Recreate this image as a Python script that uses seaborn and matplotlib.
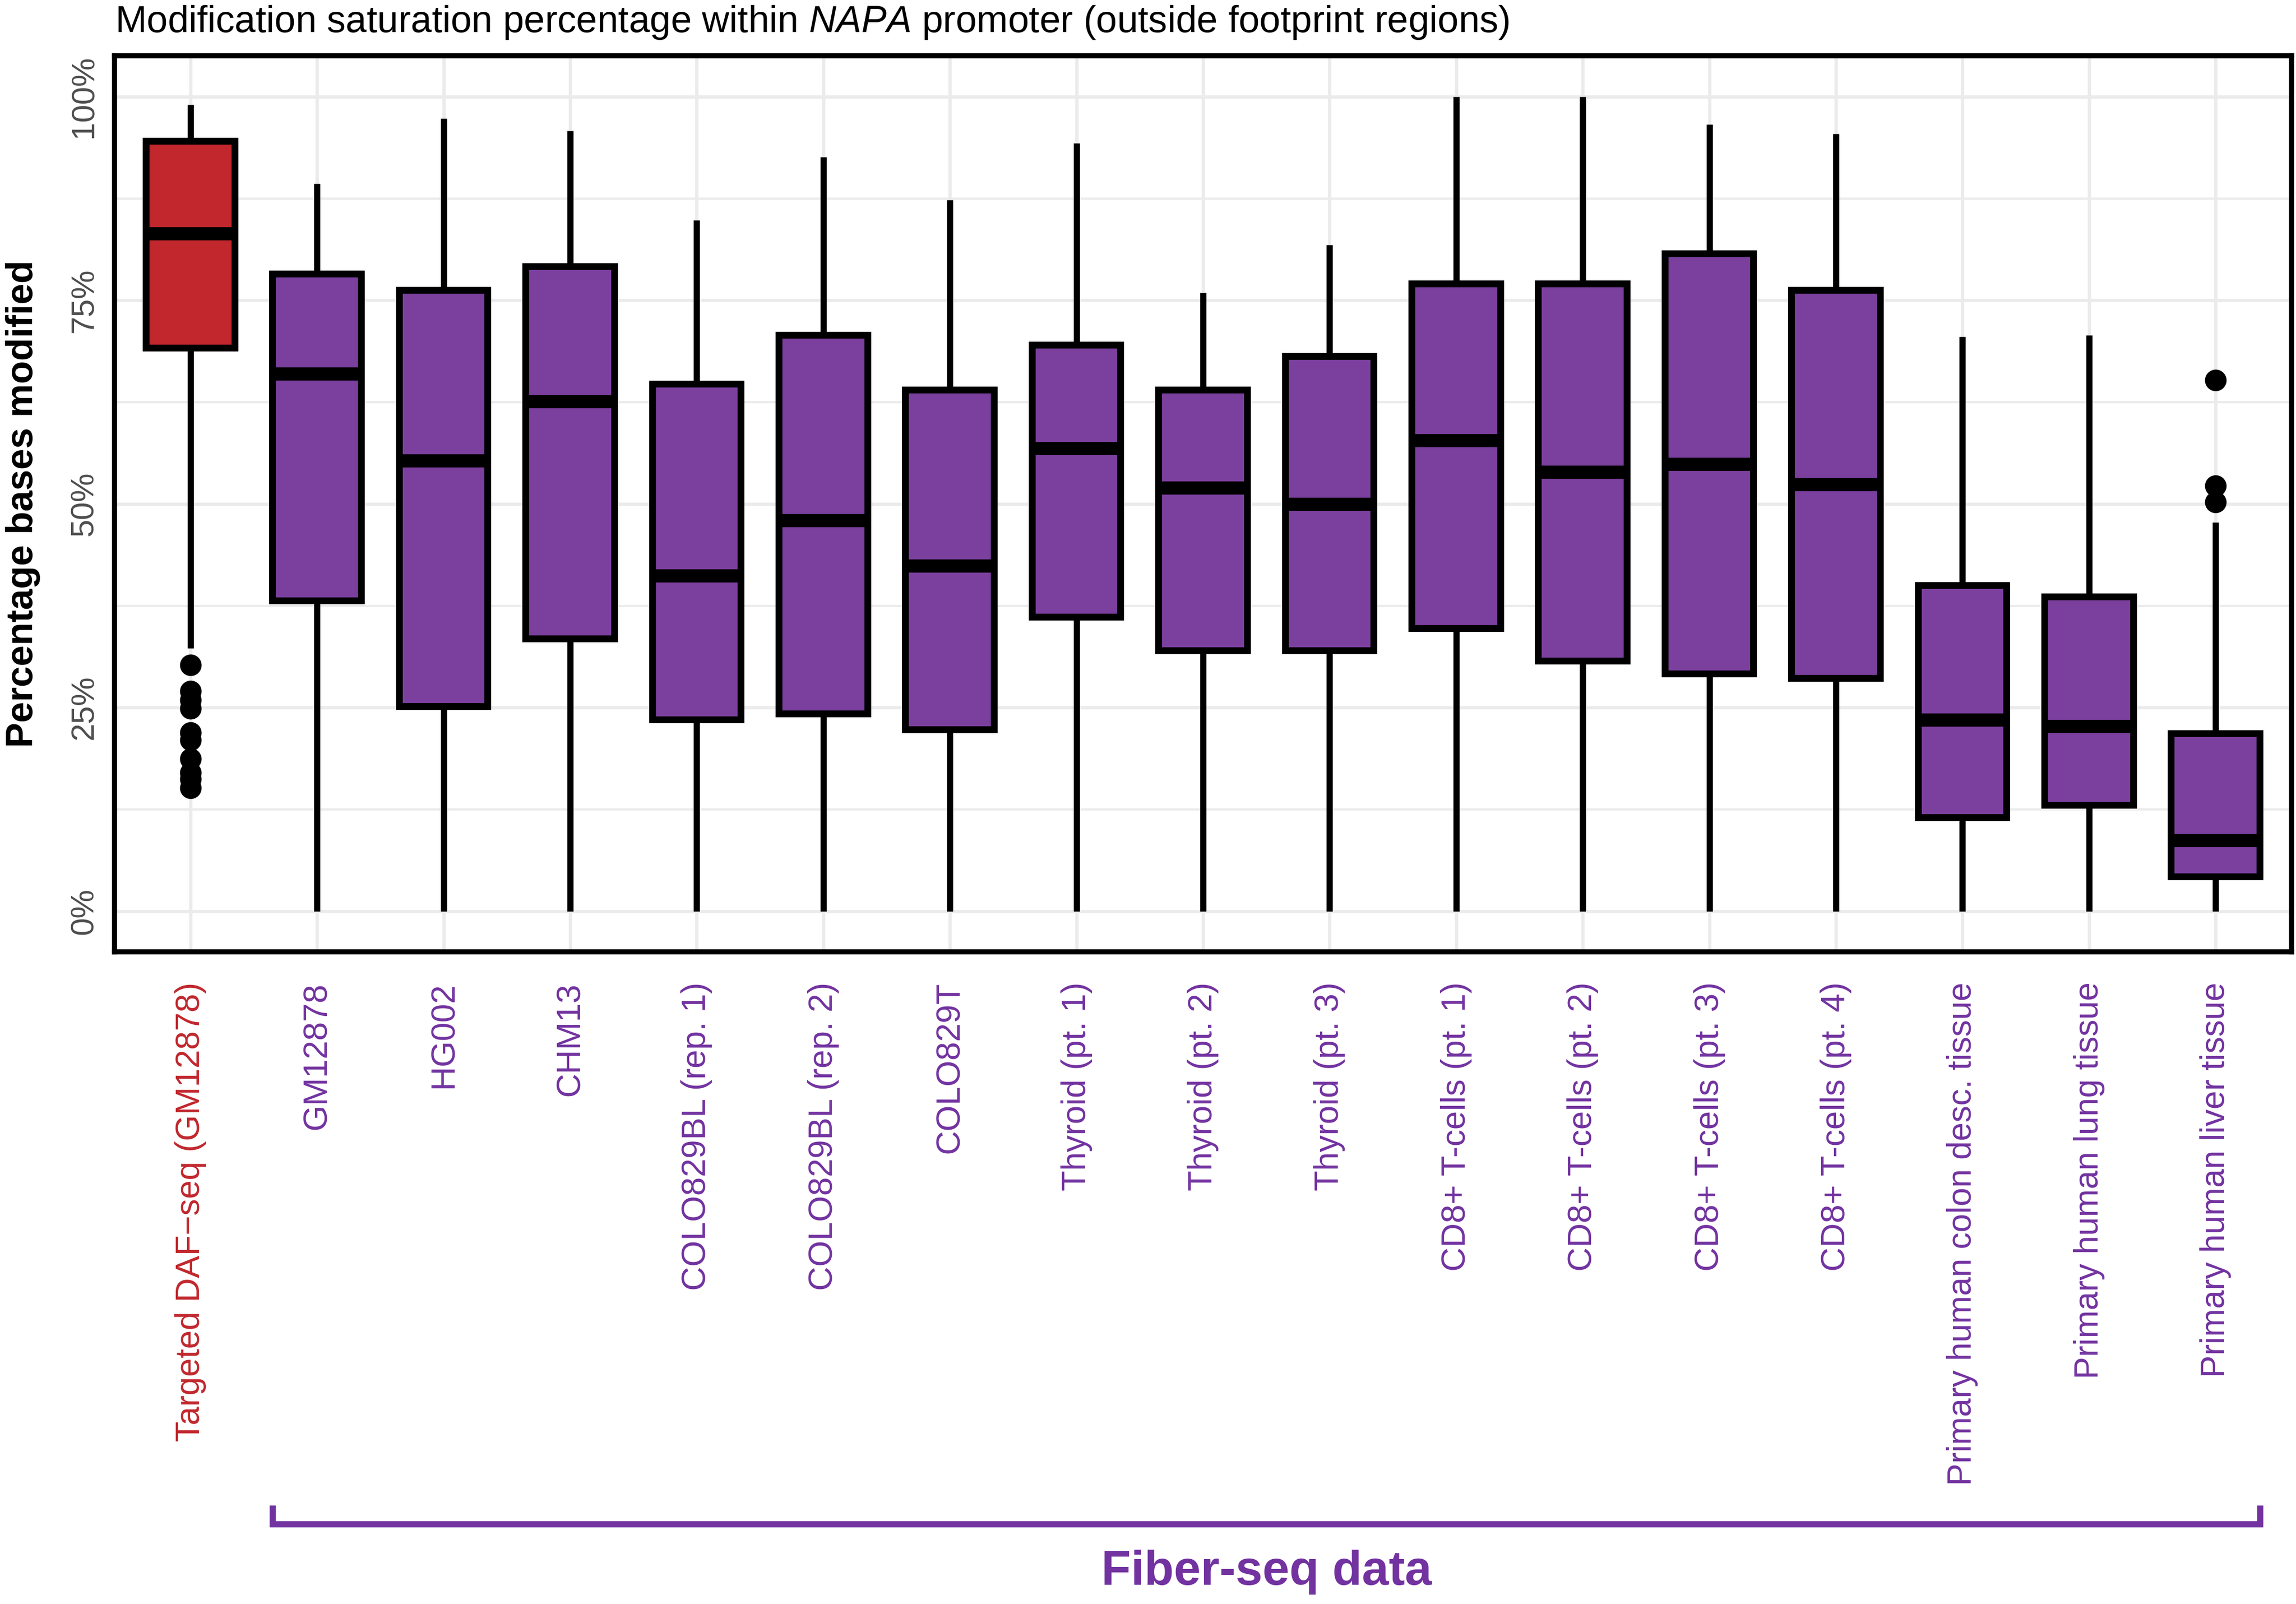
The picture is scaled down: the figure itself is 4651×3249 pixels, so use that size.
import matplotlib
matplotlib.use("Agg")
import matplotlib.pyplot as plt
import numpy as np
import pandas as pd
import seaborn as sns
from matplotlib.ticker import FixedLocator, MultipleLocator

# sample names (x axis, in plotting order)
SAMPLES = [
    "Targeted DAF\u2212seq (GM12878)", "GM12878", "HG002", "CHM13",
    "COLO829BL (rep. 1)", "COLO829BL (rep. 2)", "COLO829T",
    "Thyroid (pt. 1)", "Thyroid (pt. 2)", "Thyroid (pt. 3)",
    "CD8+ T-cells (pt. 1)", "CD8+ T-cells (pt. 2)", "CD8+ T-cells (pt. 3)", "CD8+ T-cells (pt. 4)",
    "Primary human colon desc. tissue", "Primary human lung tissue", "Primary human liver tissue",
]

# box summaries (% bases modified)
LOWER = [32.3, 0, 0, 0, 0, 0, 0, 0, 0, 0, 0, 0, 0, 0, 0, 0, 0]
Q1 = [69.1, 38.1, 25.1, 33.4, 23.5, 24.2, 22.3, 36.1, 32.0, 32.0, 34.7, 30.7, 29.1, 28.6, 11.5, 13.0, 4.2]
MEDIAN = [83.2, 66.0, 55.3, 62.6, 41.2, 48.0, 42.4, 56.8, 52.0, 50.0, 57.8, 53.9, 54.9, 52.4, 23.5, 22.7, 8.7]
Q3 = [94.5, 78.2, 76.2, 79.1, 64.7, 70.7, 64.0, 69.5, 64.0, 68.1, 77.0, 77.0, 80.7, 76.2, 40.0, 38.6, 21.8]
UPPER = [99.0, 89.3, 97.3, 95.8, 84.8, 92.6, 87.3, 94.3, 75.9, 81.8, 100, 100, 96.6, 95.4, 70.5, 70.7, 47.7]

# outlying points
OUTLIER_SAMPLE = [SAMPLES[0]] * 10 + [SAMPLES[-1]] * 3
OUTLIER_VALUE = [30.2, 27.0, 25.9, 24.9, 21.9, 21.0, 18.7, 17.0, 16.2, 15.1,
                 65.2, 52.2, 50.2]

RED = "#C1272D"
PURPLE_FILL = "#7B3F9E"
PURPLE_TEXT = "#7232A0"
GRID = "#EBEBEB"

sns.set_style("white")
plt.rcParams["font.family"] = ["Liberation Sans", "DejaVu Sans"]
plt.rcParams["mathtext.fontset"] = "custom"
plt.rcParams["mathtext.rm"] = "Liberation Sans"
plt.rcParams["mathtext.it"] = "Liberation Sans:italic"

# long table: each box is described by its five numbers
rows = []
for i, s in enumerate(SAMPLES):
    for v in (LOWER[i], Q1[i], MEDIAN[i], Q3[i], UPPER[i]):
        rows.append((s, v))
df = pd.DataFrame(rows, columns=["sample", "value"])
out_df = pd.DataFrame({"sample": OUTLIER_SAMPLE, "value": OUTLIER_VALUE})

palette = {s: (RED if i == 0 else PURPLE_FILL) for i, s in enumerate(SAMPLES)}
label_colors = [RED if i == 0 else PURPLE_TEXT for i in range(len(SAMPLES))]

W, H, DPI = 4651, 3249, 300
fig, ax = plt.subplots(figsize=(W / DPI, H / DPI), dpi=DPI)
fig.subplots_adjust(left=232 / W, right=4642 / W, bottom=1 - 1928 / H, top=1 - 113 / H)

box_w = 0.7
sns.boxplot(data=df, x="sample", y="value", hue="sample", order=SAMPLES,
            palette=palette, legend=False, saturation=1, width=box_w,
            whis=(0, 100), showfliers=False, linecolor="black", linewidth=3.3,
            medianprops=dict(linewidth=6.4, color="black", solid_capstyle="butt"),
            whiskerprops=dict(linewidth=3, color="black", solid_capstyle="butt"),
            capprops=dict(visible=False), ax=ax)
sns.stripplot(data=out_df, x="sample", y="value", order=SAMPLES, jitter=False,
              color="black", size=10.5, linewidth=0, ax=ax, zorder=5)

ax.set_xlim(-0.6, len(SAMPLES) - 0.4)
ax.set_ylim(-5, 105)
ax.yaxis.set_major_locator(FixedLocator([0, 25, 50, 75, 100]))
ax.yaxis.set_minor_locator(MultipleLocator(12.5))
ax.set_yticklabels(["0%", "25%", "50%", "75%", "100%"])
ax.set_axisbelow(True)
ax.grid(which="major", color=GRID, linewidth=1.6)
ax.grid(which="minor", axis="y", color=GRID, linewidth=1.1)

for sp in ax.spines.values():
    sp.set_visible(True)
    sp.set_color("black")
    sp.set_linewidth(2.5)

ax.tick_params(axis="both", which="major", length=3.2, width=2, color="black")
ax.tick_params(axis="y", which="minor", length=0)
ax.tick_params(axis="y", labelsize=15.7, labelcolor="#4D4D4D", pad=4.3)
ax.tick_params(axis="x", labelsize=16.3, pad=11.5)
for lab in ax.get_yticklabels():
    lab.set_rotation(90)
    lab.set_va("center")
    lab.set_ha("right")
ax.set_xticks(range(len(SAMPLES)))
ax.set_xticklabels(SAMPLES, rotation=90, ha="center", va="top")
for lab, c in zip(ax.get_xticklabels(), label_colors):
    lab.set_color(c)

ax.set_xlabel("")
ax.set_ylabel("Percentage bases modified", fontsize=18.3, fontweight="bold", color="black")
ax.yaxis.set_label_coords(-0.034, 0.5)

fig.text(233 / W, 1 - 65 / H,
         r"Modification saturation percentage within $\mathit{NAPA}$ promoter (outside footprint regions)",
         fontsize=18.35, ha="left", va="baseline", color="black")

# bracket under the Fiber-seq samples
trans = ax.get_xaxis_transform()
x0 = 1 - box_w / 2
x1 = len(SAMPLES) - 1 + box_w / 2
yb, yt = -0.6386, -0.6176
ax.plot([x0, x0, x1, x1], [yt, yb, yb, yt], transform=trans, color=PURPLE_TEXT,
        linewidth=3, clip_on=False, solid_joinstyle="miter", solid_capstyle="butt")
ax.text((1 + len(SAMPLES) - 1) / 2, -0.7063, "Fiber-seq data", transform=trans,
        ha="center", va="baseline", fontsize=23.5, fontweight="bold", color=PURPLE_TEXT)

fig.savefig("out.png", dpi=DPI, facecolor="white")
